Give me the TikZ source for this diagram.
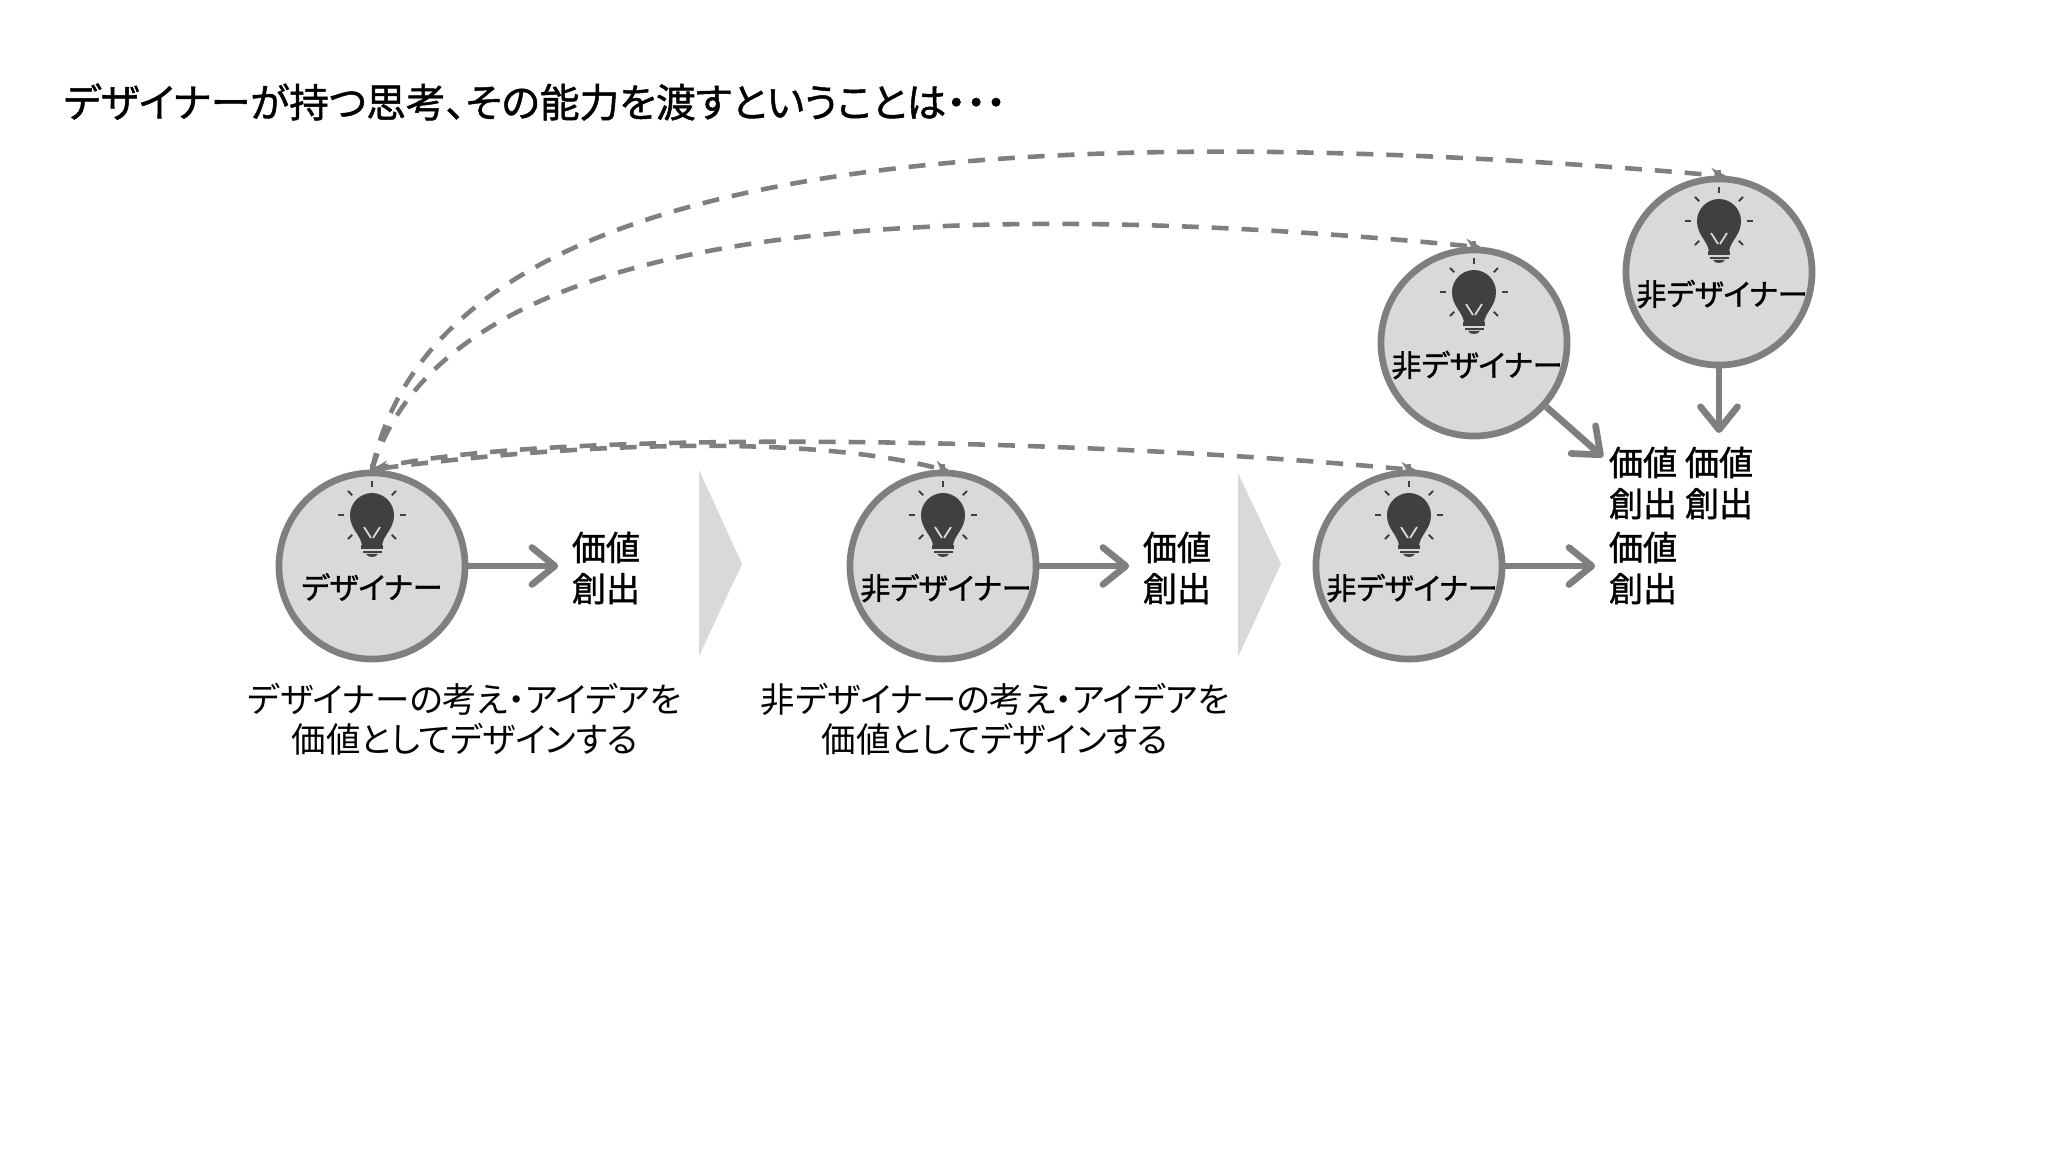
\documentclass[tikz,border=0pt]{standalone}
\usepackage{fontspec}
\setmainfont[RawFeature=+palt]{Noto Sans CJK JP}
\newfontfamily\jpmid[FakeBold=1.2,RawFeature=+palt]{Noto Sans CJK JP}
\usetikzlibrary{arrows.meta}
\definecolor{ringgray}{HTML}{7F7F7F}
\definecolor{fillgray}{HTML}{D9D9D9}
\definecolor{bulbgray}{HTML}{404040}
\tikzset{
	person/.style={circle, draw=ringgray, fill=fillgray, line width=1.9pt, minimum size=1.86cm, inner sep=0pt},
	tag/.style={inner sep=0pt, font=\fontsize{8.55pt}{10pt}\selectfont\jpmid},
	value/.style={align=center, inner sep=3.7pt, font=\fontsize{9.7pt}{11.7pt}\selectfont\jpmid},
	note/.style={align=center, inner sep=0pt, font=\fontsize{9.78pt}{11.4pt}\selectfont},
	flow/.style={draw=ringgray, line width=1.9pt, -{Straight Barb[round,length=6.5pt,width=10.5pt]}},
	idea/.style={draw=ringgray, line width=1.3pt, dash pattern=on 4.8pt off 3.7pt, -{Stealth[length=4.5pt,width=4pt]}, shorten >=-2.2pt},
	ray/.style={draw=bulbgray, line width=0.55pt},
	bulb/.pic={
		\fill[bulbgray] (-10,-21) .. controls (-12,-32) and (-22,-37) .. (-22,-51) .. controls (-22,-63) and (-12,-73) .. (0,-73) .. controls (12,-73) and (22,-63) .. (22,-51) .. controls (22,-37) and (12,-32) .. (10,-21) -- cycle;
		\fill[bulbgray] (-11,-21) rectangle (11,-17);
		\fill[bulbgray] (-9.5,-15) rectangle (9.5,-13);
		\fill[bulbgray] (-6,-12) .. controls (-4,-8) and (4,-8) .. (6,-12) -- cycle;
		\draw[fillgray, line width=0.5pt] (-8,-39) -- (-1,-28);
		\draw[fillgray, line width=0.5pt] (8,-39) -- (1,-28);
		\foreach \a in {0,45,...,315}
			\draw[ray] ({28*cos(\a)},{-51+28*sin(\a)}) -- ({34*cos(\a)},{-51+34*sin(\a)});
		\draw[ringgray, line width=1.2pt] (0,-102) -- (0,-92);
	},
}

\begin{document}
\begin{tikzpicture}[x=0.01cm,y=-0.01cm]
	%%%%% FRAME %%%%%
	\useasboundingbox (0,0) rectangle (2048,1152);
	
	\node[anchor=west, inner sep=0pt, font=\fontsize{11.3pt}{13pt}\selectfont\jpmid] (headline) at (63,102) {デザイナーが持つ思考、その能力を渡すということは・・・};
	
	%%%%% PEOPLE %%%%%
	\node[person] (d1) at (372,566) {};
	\node[person] (n2) at (943,566) {};
	\node[person] (n3) at (1409,566) {};
	\node[person] (n4) at (1474,343) {};
	\node[person] (n5) at (1719,272) {};
	
	\foreach \p in {d1,n2,n3,n4,n5}
		\pic at (\p) {bulb};
	
	\node[tag] (d1t) at (372,587) {デザイナー};
	\node[tag] (n2t) at (946,588) {非デザイナー};
	\node[tag] (n3t) at (1412,588) {非デザイナー};
	\node[tag] (n4t) at (1477,365) {非デザイナー};
	\node[tag] (n5t) at (1722,294) {非デザイナー};
	
	%%%%% VALUES %%%%%
	\node[value] (v1) at (606,568) {価値\\創出};
	\node[value] (v2) at (1177,568) {価値\\創出};
	\node[value] (v3) at (1643,568) {価値\\創出};
	\node[value] (v4) at (1643,483) {価値\\創出};
	\node[value] (v5) at (1719,483) {価値\\創出};
	\coordinate (v4in) at (1603,457);
	
	\draw[flow] (d1) -- (d1 -| v1.west);
	\draw[flow] (n2) -- (n2 -| v2.west);
	\draw[flow] (n3) -- (n3 -| v3.west);
	\draw[flow] (n4) -- (v4in);
	\draw[flow] (n5) -- (v5.north);
	
	%%%%% CHEVRONS %%%%%
	\fill[fillgray] (699,470) -- (742,564) -- (699,656) -- cycle;
	\fill[fillgray] (1238,473) -- (1281,564) -- (1238,657) -- cycle;
	
	%%%%% NOTES %%%%%
	\node[note] (note1) at (465,719) {デザイナーの考え・アイデアを\\価値としてデザインする};
	\node[note] (note2) at (995,719) {非デザイナーの考え・アイデアを\\価値としてデザインする};
	
	%%%%% HAND OVER %%%%%
	\draw[idea] (d1.north) .. controls (425,225) and (780,95) .. (n5.north);
	\draw[idea] (d1.north) .. controls (430,280) and (730,175) .. (n4.north);
	\draw[idea, {Stealth[length=4.5pt,width=4pt]}-{Stealth[length=4.5pt,width=4pt]}] (d1.north) .. controls (560,445) and (800,432) .. (n2.north);
	\draw[idea] (d1.north) .. controls (520,430) and (1040,435) .. (n3.north);
\end{tikzpicture}
\end{document}
